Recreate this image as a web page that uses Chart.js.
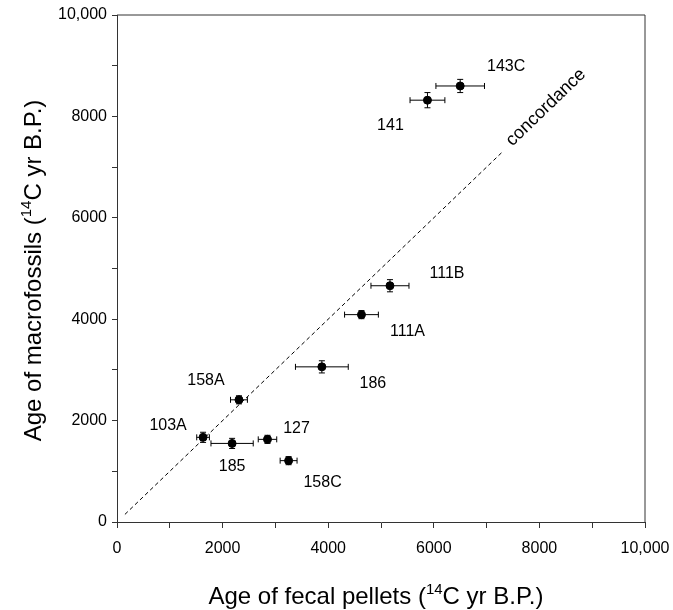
<!DOCTYPE html>
<html>
<head>
<meta charset="utf-8">
<script src="https://cdn.jsdelivr.net/npm/chart.js@4.4.1/dist/chart.umd.min.js"></script>
<style>
  body { margin: 0; background: #ffffff; }
  #wrap { width: 673px; height: 610px; }
</style>
</head>
<body>
<div id="wrap"><canvas id="ageChart" width="673" height="610"></canvas></div>
<script>
// ===== Data: 14C ages, fecal pellets vs macrofossils =====
const sampleIds = ['143C', '141', '111B', '111A', '186', '158A', '103A', '127', '185', '158C'];
const fecalAges = [6500, 5880, 5170, 4630, 3880, 2310, 1630, 2850, 2180, 3250];
const fecalErr = [460, 330, 360, 320, 500, 160, 120, 175, 400, 160];
const macroAges = [8600, 8320, 4660, 4090, 3060, 2410, 1670, 1630, 1550, 1210];
const macroErr = [130, 150, 120, 80, 120, 80, 100, 80, 100, 80];
const concordanceX = [150, 7300];
const axisTicks = [0, 1000, 2000, 3000, 4000, 5000, 6000, 7000, 8000, 9000, 10000];

const FONT = '"Liberation Sans", Arial, Helvetica, sans-serif';
const INK = '#000000';
const AXIS = '#333333';

// label placement (pixel offsets from each point)
const labelOffsets = [[46, -19], [-37, 25], [57, -12], [46, 17], [51, 17], [-33, -19], [-35, -12], [29, -11], [0, 23], [34, 22]];

function tickText(v) {
  if (v === 10000) return '10,000';
  return v % 2000 === 0 ? String(v) : '';
}

// error bars + point labels + concordance text + axis titles
const decorPlugin = {
  id: 'decor',
  afterDatasetsDraw(chart) {
    const ctx = chart.ctx;
    const xs = chart.scales.x, ys = chart.scales.y;
    ctx.save();
    ctx.strokeStyle = INK;
    ctx.lineWidth = 1;
    fecalAges.forEach((fx, i) => {
      const px = xs.getPixelForValue(fx), py = ys.getPixelForValue(macroAges[i]);
      const x0 = xs.getPixelForValue(fx - fecalErr[i]), x1 = xs.getPixelForValue(fx + fecalErr[i]);
      const y0 = ys.getPixelForValue(macroAges[i] - macroErr[i]), y1 = ys.getPixelForValue(macroAges[i] + macroErr[i]);
      ctx.beginPath();
      ctx.moveTo(x0, py); ctx.lineTo(x1, py);
      ctx.moveTo(x0, py - 3); ctx.lineTo(x0, py + 3);
      ctx.moveTo(x1, py - 3); ctx.lineTo(x1, py + 3);
      ctx.moveTo(px, y0); ctx.lineTo(px, y1);
      ctx.moveTo(px - 3, y0); ctx.lineTo(px + 3, y0);
      ctx.moveTo(px - 3, y1); ctx.lineTo(px + 3, y1);
      ctx.stroke();
    });
    ctx.fillStyle = INK;
    ctx.font = '16px ' + FONT;
    ctx.textAlign = 'center';
    ctx.textBaseline = 'middle';
    sampleIds.forEach((id, i) => {
      const px = xs.getPixelForValue(fecalAges[i]), py = ys.getPixelForValue(macroAges[i]);
      ctx.fillText(id, px + labelOffsets[i][0], py + labelOffsets[i][1]);
    });
    // concordance label along the 1:1 line
    const ax = xs.getPixelForValue(0), ay = ys.getPixelForValue(0);
    const bx = xs.getPixelForValue(10000), by = ys.getPixelForValue(10000);
    const ang = Math.atan2(by - ay, bx - ax);
    ctx.translate(xs.getPixelForValue(8150), ys.getPixelForValue(8150));
    ctx.rotate(ang);
    ctx.font = '18px ' + FONT;
    ctx.fillText('concordance', 0, -2);
    ctx.restore();

    // frame top + right
    const a = chart.chartArea;
    ctx.save();
    ctx.strokeStyle = AXIS;
    ctx.lineWidth = 1;
    ctx.beginPath();
    ctx.moveTo(a.left, a.top); ctx.lineTo(a.right, a.top); ctx.lineTo(a.right, a.bottom);
    ctx.stroke();
    ctx.restore();
  },
  afterDraw(chart) {
    const ctx = chart.ctx;
    const a = chart.chartArea;
    const pre = 'C yr B.P.)';
    function title(front, cx, cy, rot) {
      ctx.save();
      ctx.translate(cx, cy);
      ctx.rotate(rot);
      ctx.fillStyle = INK;
      ctx.textBaseline = 'alphabetic';
      ctx.textAlign = 'left';
      const big = '24px ' + FONT, small = '15px ' + FONT;
      ctx.font = big;
      const w1 = ctx.measureText(front + '(').width;
      const w3 = ctx.measureText(pre).width;
      ctx.font = small;
      const w2 = ctx.measureText('14').width;
      let x = -(w1 + w2 + w3) / 2;
      ctx.font = big;
      ctx.fillText(front + '(', x, 9); x += w1;
      ctx.font = small;
      ctx.fillText('14', x, -1); x += w2;
      ctx.font = big;
      ctx.fillText(pre, x, 9);
      ctx.restore();
    }
    title('Age of fecal pellets ', (a.left + a.right) / 2 - 5, 595, 0);
    title('Age of macrofossils ', 32, (a.top + a.bottom) / 2 + 2, -Math.PI / 2);
  }
};

const ctx = document.getElementById('ageChart').getContext('2d');
new Chart(ctx, {
  type: 'scatter',
  data: {
    datasets: [{
      label: 'samples',
      data: fecalAges.map((x, i) => ({ x: x, y: macroAges[i] })),
      backgroundColor: INK,
      borderColor: INK,
      pointRadius: 4,
      pointHoverRadius: 4
    }, {
      label: 'concordance',
      type: 'line',
      data: concordanceX.map(v => ({ x: v, y: v })),
      borderColor: INK,
      borderWidth: 1,
      borderDash: [4, 3],
      pointRadius: 0,
      fill: false
    }]
  },
  plugins: [decorPlugin],
  options: {
    responsive: false,
    animation: false,
    layout: { padding: { top: 15, right: 28, left: 0, bottom: 0 } },
    plugins: {
      legend: { display: false },
      tooltip: { enabled: false }
    },
    scales: {
      x: {
        type: 'linear',
        min: 0, max: 10000,
        afterBuildTicks: s => { s.ticks = axisTicks.map(v => ({ value: v })); },
        afterFit: s => { s.height = 88; s.paddingLeft = 0; s.paddingRight = 0; },
        ticks: {
          autoSkip: false, maxRotation: 0, padding: 11,
          color: INK, font: { family: FONT, size: 16 },
          callback: tickText
        },
        grid: { drawOnChartArea: false, tickLength: 6, color: AXIS },
        border: { display: true, color: AXIS }
      },
      y: {
        type: 'linear',
        min: 0, max: 10000,
        afterBuildTicks: s => { s.ticks = axisTicks.map(v => ({ value: v })); },
        afterFit: s => { s.width = 117; s.paddingTop = 0; s.paddingBottom = 0; },
        ticks: {
          autoSkip: false, padding: 5,
          color: INK, font: { family: FONT, size: 16 },
          callback: tickText
        },
        grid: { drawOnChartArea: false, tickLength: 5, color: AXIS },
        border: { display: true, color: AXIS }
      }
    }
  }
});
</script>
</body>
</html>
